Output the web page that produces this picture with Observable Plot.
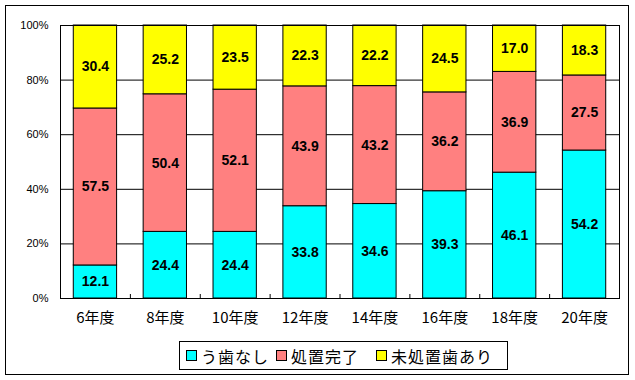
<!DOCTYPE html>
<html>
<head>
<meta charset="utf-8">
<script src="https://cdn.jsdelivr.net/npm/d3@7"></script>
<script src="https://cdn.jsdelivr.net/npm/@observablehq/plot@0.6"></script>
<style>
  html, body { margin: 0; padding: 0; background: #fff; }
  #wrap { position: relative; width: 635px; height: 380px; overflow: hidden; }
  #border { position: absolute; left: 5px; top: 5px; width: 622px; height: 368px; border: 1px solid #000; box-sizing: content-box; }
  #chart { position: absolute; left: 0; top: 0; }
  #legend { position: absolute; left: 179px; top: 341px; width: 327px; height: 27px; border: 1px solid #000;
            font-family: "Noto Sans CJK JP", sans-serif; font-size: 16px; color: #000; }
  .item { position: absolute; top: 0; height: 27px; display: flex; align-items: center; white-space: nowrap; letter-spacing: 1px; }
  .sw { width: 9px; height: 9px; border: 1px solid #000; margin-right: 4px; flex: none; }
</style>
</head>
<body>
<div id="wrap">
  <div id="border"></div>
  <div id="chart"></div>
  <div id="legend"></div>
</div>
<script>
const categories = ["6年度", "8年度", "10年度", "12年度", "14年度", "16年度", "18年度", "20年度"];
const seriesNames = ["う歯なし", "処置完了", "未処置歯あり"];
const seriesColors = ["#00FFFF", "#FF8080", "#FFFF00"];
const cariesFree = [12.1, 24.4, 24.4, 33.8, 34.6, 39.3, 46.1, 54.2];
const treated = [57.5, 50.4, 52.1, 43.9, 43.2, 36.2, 36.9, 27.5];
const untreated = [30.4, 25.2, 23.5, 22.3, 22.2, 24.5, 17.0, 18.3];
const yTicks = [0, 20, 40, 60, 80, 100];

const seriesValues = [cariesFree, treated, untreated];
const data = [];
seriesValues.forEach((vals, si) => {
  vals.forEach((v, ci) => data.push({cat: categories[ci], series: seriesNames[si], value: v}));
});

const W = 635, H = 340;
const mL = 60, mR = 16, mT = 25, mB = 42;
const half = (W - mL - mR) / categories.length / 2;

const chart = Plot.plot({
  width: W,
  height: H,
  marginLeft: mL,
  marginRight: mR,
  marginTop: mT,
  marginBottom: mB,
  style: {background: "transparent", color: "#000"},
  x: {domain: categories, paddingInner: 0.38, paddingOuter: 0.19, round: false, label: null},
  y: {domain: [0, 100], label: null},
  color: {domain: seriesNames, range: seriesColors},
  marks: [
    Plot.ruleY(yTicks, {stroke: "#000", strokeWidth: 1}),
    Plot.barY(data, {x: "cat", y: "value", fill: "series", stroke: "#000", strokeWidth: 1}),
    Plot.text(data, Plot.stackY({x: "cat", y: "value", z: "series", text: d => d.value.toFixed(1),
      fill: "#000", fontSize: 14, fontFamily: "Liberation Sans, Arial, sans-serif", fontWeight: "bold"})),
    Plot.frame({stroke: "#000", strokeWidth: 1}),
    Plot.axisY(yTicks, {tickSize: 0, tickPadding: 12, tickFormat: d => d + "%",
      fontSize: 11, fontFamily: "Liberation Sans, Arial, sans-serif", label: null}),
    Plot.axisX({tickSize: 0, tickPadding: 14, fontSize: 15,
      fontFamily: "Noto Sans CJK JP, sans-serif", label: null}),
    Plot.axisX(categories.slice(0, categories.length - 1), {tickSize: -4, text: null, dx: half, label: null, stroke: "#000"})
  ]
});
document.getElementById("chart").appendChild(chart);

const legend = document.getElementById("legend");
const itemLeft = [6, 96, 196];
seriesNames.forEach((name, i) => {
  const item = document.createElement("div");
  item.className = "item";
  item.style.left = itemLeft[i] + "px";
  const sw = document.createElement("div");
  sw.className = "sw";
  sw.style.background = seriesColors[i];
  const t = document.createElement("span");
  t.textContent = name;
  item.appendChild(sw);
  item.appendChild(t);
  legend.appendChild(item);
});
</script>
</body>
</html>
